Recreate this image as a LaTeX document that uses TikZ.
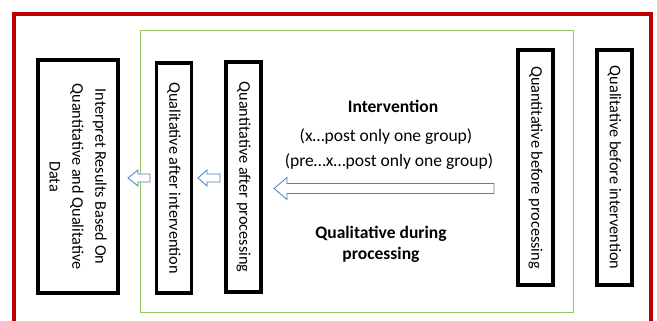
\documentclass[tikz,border=0pt]{standalone}
\usepackage{fontspec}
\setmainfont{Carlito}
\definecolor{frame}{RGB}{192,0,0}
\definecolor{grn}{RGB}{150,195,100}
\definecolor{arrowblue}{RGB}{79,129,189}
\begin{document}
\begin{tikzpicture}[x=1bp,y=-1bp,
  vbox/.style={draw=black, line width=3.5bp, rotate=-90, inner sep=2bp,
    font=\fontsize{16.3}{23}\selectfont, align=center},
  lbl/.style={font=\fontsize{17.6}{21}\selectfont, align=center, inner sep=0pt},
  blk/.style={draw=arrowblue, fill=white, line width=0.8bp, line join=miter}]
\clip (0,0) rectangle (657,320);
\useasboundingbox (0,0) rectangle (657,320);
\fill[white] (0,0) rectangle (657,320);
% outer red frame
\draw[frame, line width=4bp] (14,14) rectangle (651,340);
% green frame
\draw[grn, line width=0.8bp] (140.5,30.5) rectangle (573.5,312);
% boxes
\node[vbox, minimum width=233bp, minimum height=80bp] (interp) at (78,176.5)
  {Interpret Results Based On\\Quantitative and Qualitative\\Data};
\node[vbox, minimum width=230bp, minimum height=35bp] (qualafter) at (174,178)
  {Qualitative after intervention};
\node[vbox, minimum width=230bp, minimum height=35bp] (quantafter) at (243.5,177)
  {Quantitative after processing};
\node[vbox, minimum width=235bp, minimum height=35bp] (quantbefore) at (535.5,167.5)
  {Quantitative before processing};
\node[vbox, minimum width=235bp, minimum height=35bp] (qualbefore) at (614.5,167.5)
  {Qualitative before intervention};
% texts
\node[lbl, font=\fontsize{17.6}{21}\selectfont\bfseries] (interv) at (393,106) {Intervention};
\node[lbl] (xpost) at (386,137) {(x…post only one group)};
\node[lbl] (prepost) at (389,162) {(pre…x…post only one group)};
\node[lbl, font=\fontsize{17.6}{21}\selectfont\bfseries] (during) at (381,244) {Qualitative during\\processing};
% arrows
\coordinate (a1tip) at (128,178);
\draw[blk] (a1tip) -- ++(10,-8) -- ++(0,4) -- (150,174) -- (150,182) -- (138,182) -- ++(0,4) -- cycle;
\coordinate (a2tip) at (198,178);
\draw[blk] (a2tip) -- ++(9,-8) -- ++(0,4) -- (220,174) -- (220,182) -- (207,182) -- ++(0,4) -- cycle;
\coordinate (a3tip) at (274,188.5);
\draw[blk] (a3tip) -- ++(13,-11) -- ++(0,6) -- (494,183.5) -- (494,193.5) -- (287,193.5) -- ++(0,6) -- cycle;
\end{tikzpicture}
\end{document}
